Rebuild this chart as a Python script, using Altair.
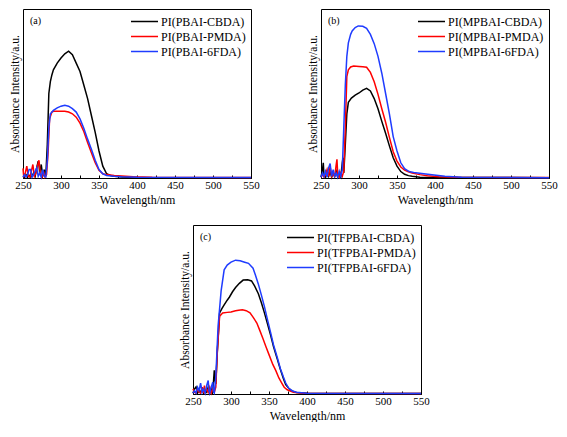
import altair as alt
import pandas as pd

FONT = "Liberation Serif"
COLORS = ["#000000", "#ff0000", "#1f3cff"]

# ---------------- panel (a) ----------------
a_labels = ["PI(PBAI-CBDA)", "PI(PBAI-PMDA)", "PI(PBAI-6FDA)"]
a_black_x = [250, 252, 254, 256, 258, 260, 262, 264, 266, 268, 270, 271, 272, 274, 276, 278, 280, 282, 284, 286, 288, 290, 295, 300, 305, 310, 315, 320, 325, 330, 335, 340, 345, 350, 355, 360, 365, 370, 380, 400, 450, 500, 550]
a_black_y = [1, 0.5, 2, 0.5, 1.5, 0.5, 1, 3, 1, 6, 10, 8, 3, 8, 1, 5, 1, 20, 50, 57, 61, 64, 68, 71, 73.5, 75, 73, 68, 63, 55, 47, 37, 27, 16, 7, 2.5, 1.5, 1, 0.6, 0.3, 0.2, 0.2, 0.2]
a_red_x = [250, 251, 253, 255, 257, 259, 261, 263, 265, 267, 269, 271, 273, 275, 277, 279, 281, 283, 285, 288, 290, 295, 300, 305, 310, 315, 320, 325, 330, 335, 340, 345, 350, 355, 360, 370, 380, 395, 420, 550]
a_red_y = [5.7, 0.5, 3, 7, 1, 0.5, 4, 8, 1, 3, 7, 10.5, 2, 0.5, 4, 0.5, 2, 15, 35, 39, 39.5, 39.5, 39.5, 39.5, 39, 38, 36, 32.5, 27.5, 21, 15, 9, 4.5, 2.5, 2, 1.5, 1.2, 0.8, 0.4, 0.3]
a_blue_x = [250, 252, 254, 256, 258, 260, 262, 264, 266, 268, 270, 272, 274, 276, 278, 280, 282, 284, 286, 290, 295, 300, 305, 310, 315, 320, 325, 330, 335, 340, 345, 350, 355, 360, 370, 380, 400, 550]
a_blue_y = [0.5, 2, 0.5, 2, 5, 5, 0.5, 2, 4, 6, 1, 3, 0.5, 5, 1, 0.5, 10, 30, 38, 40, 41.5, 42.5, 43, 42.5, 41, 39, 35, 29.5, 23, 17, 10.5, 5, 2.5, 1.5, 1, 0.7, 0.4, 0.3]

# ---------------- panel (b) ----------------
b_labels = ["PI(MPBAI-CBDA)", "PI(MPBAI-PMDA)", "PI(MPBAI-6FDA)"]
b_black_x = [250, 252, 253, 254, 256, 258, 260, 262, 264, 266, 268, 270, 272, 274, 276, 278, 279, 280, 282, 284, 286, 290, 295, 300, 305, 310, 315, 320, 325, 330, 335, 340, 345, 350, 355, 360, 365, 370, 380, 400, 550]
b_black_y = [0.5, 5, 9, 1, 0.5, 3, 1, 4, 0.5, 3, 1, 4, 0.5, 2, 0.5, 9, 12, 3, 20, 38, 44.8, 47.3, 49, 50.3, 52, 53, 51.5, 47, 41, 33.5, 26.5, 19, 12, 7, 3.8, 2.2, 1.4, 1, 0.5, 0.3, 0.2]
b_red_x = [250, 252, 254, 256, 258, 260, 262, 264, 266, 268, 270, 271, 272, 274, 276, 278, 280, 282, 284, 286, 289, 293, 300, 305, 310, 315, 320, 325, 330, 335, 340, 345, 350, 355, 360, 365, 370, 380, 390, 405, 430, 550]
b_red_y = [0.5, 2, 0.5, 2, 5, 1, 6.7, 1, 3, 0.5, 8, 11, 2, 0.5, 3, 1, 4, 30, 60, 64, 65.7, 66.3, 66, 65.8, 65.5, 62.5, 57, 49.5, 41, 33, 24, 15.5, 10, 6.5, 4.7, 3.7, 2.9, 2, 1.3, 0.8, 0.4, 0.3]
b_blue_x = [250, 252, 254, 256, 258, 260, 262, 264, 266, 268, 270, 272, 274, 276, 278, 280, 282, 284, 286, 289, 291, 295, 299, 305, 310, 315, 320, 325, 330, 335, 340, 345, 350, 355, 360, 366, 372, 380, 396, 413, 435, 550]
b_blue_y = [0.5, 3, 1, 4, 0.5, 6, 8.6, 1, 5, 1, 3, 0.5, 4, 1, 5, 30, 55, 72, 80, 85, 87, 89, 90, 89.8, 88.6, 85, 79.5, 72, 62, 50, 38, 24.5, 16, 9, 5.5, 3.8, 3.3, 2.8, 1.9, 1, 0.4, 0.2]

# ---------------- panel (c) ----------------
c_labels = ["PI(TFPBAI-CBDA)", "PI(TFPBAI-PMDA)", "PI(TFPBAI-6FDA)"]
c_black_x = [250, 252, 254, 256, 258, 260, 262, 264, 266, 268, 270, 272, 274, 276, 278, 279, 280, 282, 285, 288, 291, 295, 298, 302, 306, 311, 316, 322, 327, 331, 336, 340, 344, 348, 352, 356, 361, 365, 369, 372, 376, 380, 386, 400, 550]
c_black_y = [0.5, 3, 4.2, 0.5, 2, 1, 3, 0.5, 2, 1, 4, 0.5, 3, 1, 14, 8, 6, 25, 48, 50.5, 52.7, 55.5, 57.4, 60.5, 63, 65.5, 67.4, 67.6, 66.9, 64, 59.3, 54, 48, 41.5, 35, 28, 20.5, 14.5, 9, 5.5, 3.4, 1.8, 0.9, 0.4, 0.3]
c_red_x = [250, 252, 254, 256, 258, 260, 262, 264, 265, 266, 268, 270, 272, 274, 276, 278, 280, 282, 285, 289, 295, 300, 306, 310, 315, 320, 325, 329, 334, 338, 342, 346, 350, 355, 359, 363, 367, 370, 374, 382, 395, 550]
c_red_y = [3, 1, 0.5, 3, 1, 0.5, 4, 0.5, 5, 1, 3, 1, 4, 0.5, 3, 1, 4, 25, 46, 48, 48.3, 48.5, 49.2, 49.6, 49.8, 49.3, 48, 45.5, 42, 37.5, 32.8, 28, 23.3, 17.5, 13.8, 9.5, 6.3, 4, 2.5, 1, 0.5, 0.3]
c_blue_x = [250, 252, 254, 256, 258, 260, 262, 264, 266, 268, 270, 271, 272, 274, 276, 277, 278, 280, 283, 287, 291, 295, 300, 306, 312, 318, 323, 329, 332, 336, 340, 344, 348, 352, 356, 361, 365, 369, 372, 376, 381, 386, 400, 550]
c_blue_y = [0.5, 2, 0.5, 4, 2, 6.4, 1, 3, 0.5, 5, 8, 2, 0.5, 4, 7, 1, 0.5, 10, 40, 61, 73.5, 76.3, 78, 79.2, 78.8, 78, 77.3, 74.4, 70.5, 65, 58.5, 51.7, 44, 36.6, 29, 21.4, 15, 10, 6.5, 3.4, 1.8, 1, 0.5, 0.3]

panel_tags = ["(a)", "(b)", "(c)"]
x_ticks = list(range(250, 551, 25))


def build_df(labels, xs, ys):
    rows = []
    for lab, xx, yy in zip(labels, xs, ys):
        for i, (a, b) in enumerate(zip(xx, yy)):
            rows.append({"wl": a, "absb": b, "series": lab, "order": i})
    return pd.DataFrame(rows)


def panel(labels, xs, ys, tag, w, h):
    df = build_df(labels, xs, ys)
    lines = alt.Chart(df).mark_line(strokeWidth=1.5).encode(
        x=alt.X("wl:Q", scale=alt.Scale(domain=[250, 550], nice=False, zero=False),
                axis=alt.Axis(title="Wavelength/nm", values=x_ticks,
                              labelExpr="datum.value % 50 == 0 ? datum.label : ''",
                              tickSize={"expr": "-3"}, labelPadding=4, grid=False,
                              labelFontSize=11, titleFontSize=12, titlePadding=4,
                              labelFlush=False)),
        y=alt.Y("absb:Q", scale=alt.Scale(domain=[0, 100], nice=False),
                axis=alt.Axis(title="Absorbance Intensity/a.u.", labels=False,
                              ticks=False, domain=False, grid=False,
                              titleFontSize=11.5, titlePadding=3)),
        color=alt.Color("series:N", scale=alt.Scale(domain=labels, range=COLORS),
                        legend=alt.Legend(title=None, orient="top-right", offset=5,
                                          symbolType="M-2,0L2,0", symbolSize=182,
                                          symbolStrokeWidth=1.5, labelFontSize=12,
                                          labelFont=FONT, rowPadding=1, padding=0,
                                          labelOffset=9)),
        order="order:Q",
    )
    tag_df = pd.DataFrame({"t": [tag]})
    tag_mark = alt.Chart(tag_df).mark_text(font=FONT, fontSize=10, align="left", baseline="middle").encode(
        text="t:N", x=alt.value(7), y=alt.value(12))
    return alt.layer(lines, tag_mark).properties(width=w, height=h)


W, H = 228, 169
pa = panel(a_labels, [a_black_x, a_red_x, a_blue_x], [a_black_y, a_red_y, a_blue_y], panel_tags[0], W, H)
pb = panel(b_labels, [b_black_x, b_red_x, b_blue_x], [b_black_y, b_red_y, b_blue_y], panel_tags[1], W, H)
pc = panel(c_labels, [c_black_x, c_red_x, c_blue_x], [c_black_y, c_red_y, c_blue_y], panel_tags[2], W, H)

spacer = alt.Chart(pd.DataFrame({"v": [0]})).mark_point(opacity=0).encode(
    x=alt.X("v:Q", axis=None), y=alt.Y("v:Q", axis=None)
).properties(width=154, height=10, view=alt.ViewBackground(stroke="transparent"))

top = alt.hconcat(pa, pb, spacing=46).resolve_scale(color="independent", x="independent", y="independent")
bottom = alt.hconcat(spacer, pc, spacing=0).resolve_scale(color="independent", x="independent", y="independent")

chart = alt.vconcat(top, bottom, spacing=18).resolve_scale(
    color="independent", x="independent", y="independent"
).properties(padding=0).configure(font=FONT).configure_view(
    stroke="black", strokeWidth=1
).configure_axis(
    labelFont=FONT, titleFont=FONT, labelColor="black", titleColor="black",
    domainColor="black", tickColor="black", titleFontWeight="normal"
).configure_legend(labelColor="black")

chart.save("out.html", embed_options={"renderer": "svg", "actions": False})
